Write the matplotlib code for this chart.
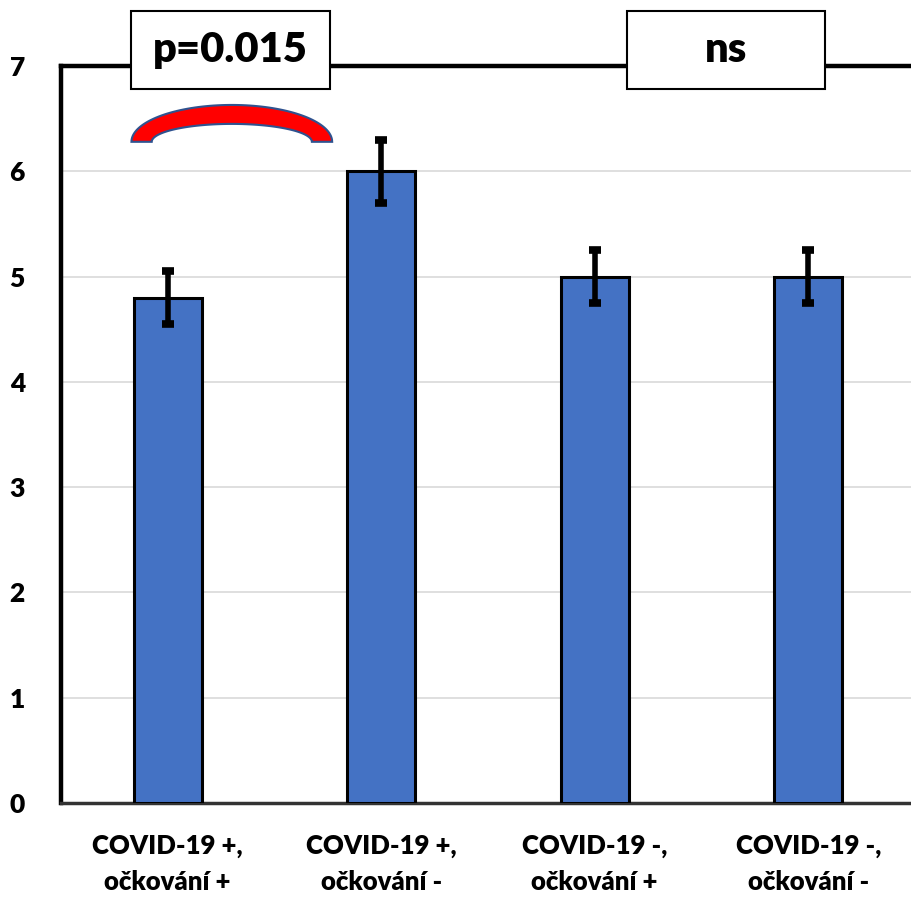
import numpy as np
import matplotlib.pyplot as plt
from matplotlib.patches import Rectangle, Polygon

plt.rcParams['font.family'] = ['Lato', 'DejaVu Sans']
plt.rcParams['font.weight'] = 'heavy'

categories = ["COVID-19 +,\nočkování +", "COVID-19 +,\nočkování -",
              "COVID-19 -,\nočkování +", "COVID-19 -,\nočkování -"]
values = [4.8, 6.0, 5.0, 5.0]
errors = [0.25, 0.3, 0.25, 0.25]
yticks = [0, 1, 2, 3, 4, 5, 6, 7]
annot_labels = ["p=0.015", "ns"]

fig = plt.figure(figsize=(9.12, 8.98), dpi=100)
ax = fig.add_axes([61/912, 95/898, 854/912, 737/898])

x = np.arange(len(categories))
ax.bar(x, values, width=0.32, color="#4472C4", edgecolor="black", linewidth=2.2, zorder=3)
ax.errorbar(x, values, yerr=errors, fmt="none", ecolor="black", elinewidth=4,
            capsize=4.5, capthick=5.5, zorder=4)

ax.set_xlim(-0.5, 3.5)
ax.set_ylim(0, 7)
ax.set_yticks(yticks)
ax.set_xticks(x)
ax.set_xticklabels(categories, fontsize=18.5, fontweight="heavy", linespacing=1.6)
ax.tick_params(axis="y", length=0, pad=26, labelsize=19)
ax.tick_params(axis="x", length=0, pad=22)
ax.grid(axis="y", color="#d9d9d9", linewidth=1.2, zorder=0)

for s in ["left", "top"]:
    ax.spines[s].set_linewidth(3.2)
    ax.spines[s].set_color("black")
ax.spines["right"].set_visible(False)
ax.spines["bottom"].set_linewidth(2.5)
ax.spines["bottom"].set_color("#333333")

# annotation boxes above the plot
box_x = [-0.17, 2.15]
for bx, lab in zip(box_x, annot_labels):
    ax.add_patch(Rectangle((bx, 6.78), 0.93, 0.74, facecolor="white", edgecolor="black",
                           linewidth=1.5, clip_on=False, zorder=6))
    ax.text(bx + 0.465, 7.15, lab, ha="center", va="center", fontsize=30,
            fontweight="heavy", zorder=7, clip_on=False)

# red arc between first two bars
cx, half_out, half_in = 0.3, 0.47, 0.375
y0, h_out, h_in = 6.28, 0.35, 0.17
t = np.linspace(np.pi, 0, 80)
outer = np.column_stack([cx + half_out*np.cos(t), y0 + h_out*np.sin(t)])
inner = np.column_stack([cx + half_in*np.cos(t[::-1]), y0 + h_in*np.sin(t[::-1])])
ax.add_patch(Polygon(np.vstack([outer, inner]), closed=True, facecolor="red",
                     edgecolor="#2f528f", linewidth=1.5, zorder=5, clip_on=False))

fig.savefig("out.png", dpi=100)
